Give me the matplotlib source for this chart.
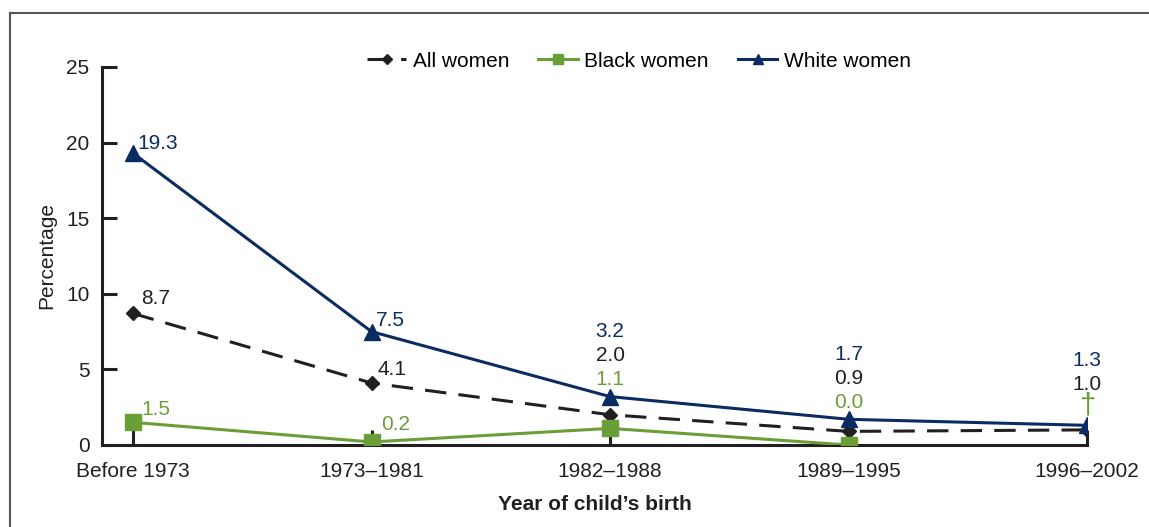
import matplotlib.pyplot as plt
import matplotlib.lines as mlines

plt.rcParams['font.family'] = ['Liberation Sans', 'DejaVu Sans']

periods = ['Before 1973', '1973\u20131981', '1982\u20131988', '1989\u20131995', '1996\u20132002']
all_women = [8.7, 4.1, 2.0, 0.9, 1.0]
black_women = [1.5, 0.2, 1.1, 0.0]
white_women = [19.3, 7.5, 3.2, 1.7, 1.3]

c_all = '#231f20'
c_black = '#6a9f38'
c_white = '#0b2b63'

fig = plt.figure(figsize=(11.49, 5.27), dpi=100)
ax = fig.add_axes([102 / 1149, 1 - 445 / 527, (1087 - 102) / 1149, (445 - 67) / 527])

x = list(range(len(periods)))
ax.plot(x, all_women, color=c_all, lw=2.2, dashes=(7, 4), marker='D', ms=7,
        label='All women', zorder=3)
ax.plot(x[:len(black_women)], black_women, color=c_black, lw=2.2, marker='s', ms=11,
        label='Black women', zorder=4)
ax.plot(x, white_women, color=c_white, lw=2.2, marker='^', ms=11,
        label='White women', zorder=3)

fs = 15


def lab(xv, yv, s, color, dx, dy, ha='left'):
    ax.annotate(s, (xv, yv), xytext=(dx, dy), textcoords='offset pixels',
                color=color, fontsize=fs, ha=ha, va='center')


# value labels for the first two periods (to the right of the point)
lab(0, white_women[0], '19.3', c_white, 4, 10)
lab(0, all_women[0], '8.7', c_all, 8, 15)
lab(0, black_women[0], '1.5', c_black, 8, 13)
lab(1, white_women[1], '7.5', c_white, 4, 11)
lab(1, all_women[1], '4.1', c_all, 6, 14)
lab(1, black_women[1], '0.2', c_black, 10, 17)

# stacked labels above the later periods
for i in (2, 3, 4):
    base = white_women[i] + 1.1
    ax.text(i, base + 3.2, '%.1f' % white_women[i], color=c_white, fontsize=fs,
            ha='center', va='center')
    ax.text(i, base + 1.6, '%.1f' % all_women[i], color=c_all, fontsize=fs,
            ha='center', va='center')
    if i < len(black_women):
        ax.text(i, base, '%.1f' % black_women[i], color=c_black, fontsize=fs,
                ha='center', va='center')
    else:
        ax.text(i, base + 0.2, '\u2020', color=c_black, fontsize=21,
                ha='center', va='center')

ax.set_xlim(-0.13, 4)
ax.set_ylim(0, 25)
ax.set_yticks([0, 5, 10, 15, 20, 25])
ax.set_xticks(x)
ax.set_xticklabels(periods)
ax.tick_params(axis='both', direction='in', length=11, width=2.2, colors=c_all,
               labelsize=fs, labelcolor=c_all)
ax.tick_params(axis='x', pad=12)
ax.tick_params(axis='y', pad=9)
for s in ('top', 'right'):
    ax.spines[s].set_visible(False)
for s in ('left', 'bottom'):
    ax.spines[s].set_linewidth(2.2)
    ax.spines[s].set_color(c_all)
ax.set_ylabel('Percentage', fontsize=fs, color=c_all, labelpad=7)
ax.set_xlabel('Year of child\u2019s birth', fontsize=fs, fontweight='bold', color=c_all, labelpad=10)

ax.legend(loc='upper center', bbox_to_anchor=(0.545, 1.09), ncol=3, frameon=False,
          fontsize=fs, handlelength=1.9, handletextpad=0.3, columnspacing=1.4,
          markerscale=0.7)

# outer frame (open at right and bottom)
fig.add_artist(mlines.Line2D([10 / 1149, 1.0], [1 - 13 / 527, 1 - 13 / 527],
                             transform=fig.transFigure, color='#555555', lw=1.5))
fig.add_artist(mlines.Line2D([10 / 1149, 10 / 1149], [0.0, 1 - 13 / 527],
                             transform=fig.transFigure, color='#555555', lw=1.5))

fig.savefig('out.png', dpi=100)
